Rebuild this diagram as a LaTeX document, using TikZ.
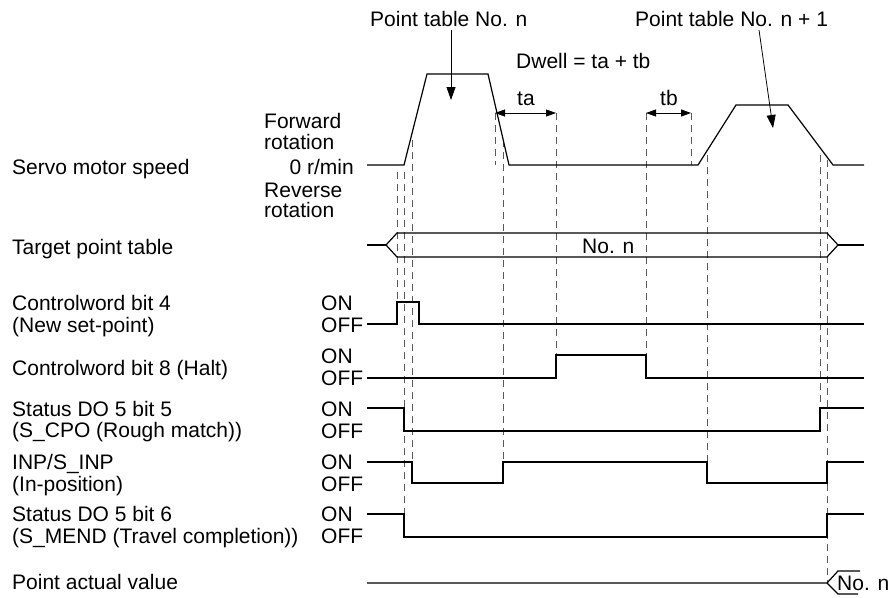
\documentclass[tikz,border=0pt]{standalone}
\usepackage{fontspec}
\setmainfont{Liberation Sans}
\usetikzlibrary{arrows.meta}
\begin{document}
\begin{tikzpicture}[x=1pt,y=-1pt,
  lbl/.style={anchor=base west,inner sep=0pt,font=\fontsize{21}{21}\selectfont},
  lble/.style={anchor=base east,inner sep=0pt,font=\fontsize{21}{21}\selectfont},
  sig/.style={line width=1.2pt,line join=miter},
  guide/.style={line width=0.9pt,draw=black!65,dash pattern=on 7pt off 5pt},
  ptr/.style={line width=0.8pt,-{Triangle[length=13pt,width=9pt]}},
  dimarrow/.style={line width=0.8pt,{Triangle[length=10pt,width=7pt]}-{Triangle[length=10pt,width=7pt]}}]
\useasboundingbox (0,0) rectangle (896,597);

% ---- left labels ----
\node[lbl] (l1) at (12,174) {Servo motor speed};
\node[lbl] (l2) at (12,254) {Target point table};
\node[lbl] (l3a) at (12,310) {Controlword bit 4};
\node[lbl] (l3b) at (12,332) {(New set-point)};
\node[lbl] (l4) at (12,375) {Controlword bit 8 (Halt)};
\node[lbl] (l5a) at (12,416) {Status DO 5 bit 5};
\node[lbl] (l5b) at (12,437) {(S\_CPO (Rough match))};
\node[lbl] (l6a) at (12,469) {INP/S\_INP};
\node[lbl] (l6b) at (12,491) {(In-position)};
\node[lbl] (l7a) at (12,521) {Status DO 5 bit 6};
\node[lbl] (l7b) at (12,543) {(S\_MEND (Travel completion))};
\node[lbl] (l8) at (12,589) {Point actual value};

% ---- level labels ----
\node[lbl] (fw1) at (264,128) {Forward};
\node[lbl] (fw2) at (264,149) {rotation};
\node[lble] (zero) at (354,174) {0 r/min};
\node[lbl] (rv1) at (264,197) {Reverse};
\node[lbl] (rv2) at (264,217) {rotation};
\foreach \n/\y in {a/310,b/363,c/416,d/469,e/521}{
  \node[lbl] (on\n) at (321,\y) {ON};
  \node[lbl] (off\n) at (321,\y+22) {OFF};
}

% ---- top labels ----
\node[lbl] (ptn) at (370,27) {Point table No. n};
\node[lbl] (ptn1) at (635,27) {Point table No. n + 1};
\node[lbl] (dwell) at (516,68) {Dwell = ta + tb};
\node[lbl] (ta) at (517,105) {ta};
\node[lbl] (tb) at (660,105) {tb};

% ---- guides ----
\foreach \x/\ya/\yb in {397/172/302, 404/172/514, 412/140/462, 495/113/165,
  503/140/462, 556/113/355, 646/113/355, 691/113/165, 707/155/462,
  820/155/408, 827/160/583}{
  \draw[guide] (\x,\ya) -- (\x,\yb);
}

% ---- speed profile ----
\draw[sig] (367,165) -- (404,165) -- (427,74) -- (488,74) -- (509,165)
  -- (698,165) -- (736,105) -- (788,105) -- (833,165) -- (864,165);

% ---- pointer arrows ----
\coordinate (p1s) at (451,30);
\coordinate (p1e) at (451,100);
\coordinate (p2s) at (759,30);
\coordinate (p2e) at (773,128);
\draw[ptr] (p1s) -- (p1e);
\draw[ptr] (p2s) -- (p2e);

\coordinate (tal) at (495,113);
\coordinate (tar) at (556,113);
\coordinate (tbl) at (646,113);
\coordinate (tbr) at (691,113);
\draw[dimarrow] (tal) -- (tar);
\draw[dimarrow] (tbl) -- (tbr);

% ---- target point table ----
\draw[sig] (367,245) -- (386,245);
\draw[sig] (386,245) -- (397,233) -- (827,233) -- (838,245)
  -- (827,257) -- (397,257) -- cycle;
\draw[sig] (838,245) -- (864,245);
\node[lbl] (non) at (582,253) {No. n};

% ---- signals ----
\draw[sig] (367,324) -- (397,324) -- (397,302) -- (419,302) -- (419,324) -- (864,324);
\draw[sig] (367,378) -- (556,378) -- (556,355) -- (646,355) -- (646,378) -- (864,378);
\draw[sig] (367,408) -- (404,408) -- (404,431) -- (820,431) -- (820,408) -- (864,408);
\draw[sig] (367,462) -- (412,462) -- (412,483) -- (503,483) -- (503,462) -- (707,462)
  -- (707,483) -- (827,483) -- (827,462) -- (864,462);
\draw[sig] (367,514) -- (404,514) -- (404,537) -- (827,537) -- (827,514) -- (864,514);

% ---- point actual value ----
\draw[sig] (367,583) -- (827,583) -- (838,571) -- (860,571);
\draw[sig] (827,583) -- (838,594) -- (858,594);
\node[lbl] (pav) at (837,590) {No. n};
\end{tikzpicture}
\end{document}
